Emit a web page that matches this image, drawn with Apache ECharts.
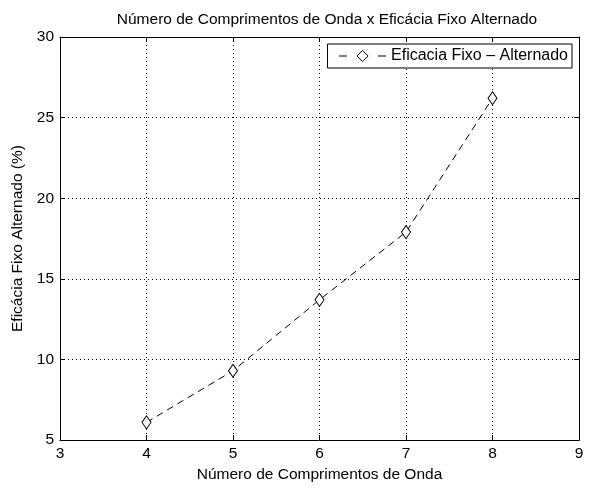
<!DOCTYPE html>
<html>
<head>
<meta charset="utf-8">
<script src="https://cdn.jsdelivr.net/npm/echarts@6/dist/echarts.min.js"></script>
<style>html,body{margin:0;padding:0;background:#fff}#c{width:589px;height:488px}</style>
</head>
<body>
<div id="c"></div>
<script>
const titleText = 'Número de Comprimentos de Onda x Eficácia Fixo Alternado';
const xName = 'Número de Comprimentos de Onda';
const yName = 'Eficácia Fixo Alternado (%)';
const seriesName = 'Eficacia Fixo – Alternado';
const xValues = [4, 5, 6, 7, 8];
const yValues = [6.1, 9.3, 13.7, 17.9, 26.2];

const font = 'Liberation Sans, Arial, Helvetica, sans-serif';
const fs = 15.5;
const chart = echarts.init(document.getElementById('c'), null, {renderer: 'canvas'});
const axisCommon = {
  type: 'value',
  axisLine: {show: true, onZero: false, lineStyle: {color: '#000', width: 1}},
  axisTick: {show: true, inside: true, length: 5, lineStyle: {color: '#000'}},
  splitLine: {show: false},
};
const gridDots = {show: true, lineStyle: {color: '#000', type: [1, 3], width: 1}};
chart.setOption({
  animation: false,
  backgroundColor: '#fff',
  title: {
    text: titleText, left: 322, top: 7, textAlign: 'center',
    textStyle: {fontFamily: font, fontSize: fs, fontWeight: 'normal', color: '#000'}
  },
  legend: {
    right: 17, top: 44,
    orient: 'horizontal',
    backgroundColor: '#fff',
    borderColor: '#000', borderWidth: 1, borderRadius: 0,
    padding: [4, 4, 4, 11],
    itemWidth: 47, itemHeight: 14,
    itemGap: 5,
    lineStyle: {type: [8, 31], width: 1, color: '#000'},
    itemStyle: {color: '#fff', borderColor: '#000', borderWidth: 1},
    textStyle: {fontFamily: font, fontSize: 16, color: '#000'},
    data: [seriesName]
  },
  grid: {left: 60, right: 10, top: 37, bottom: 41, containLabel: false},
  xAxis: [
    Object.assign({}, axisCommon, {
      min: 3, max: 9, interval: 1, position: 'bottom',
      name: xName, nameLocation: 'middle', nameGap: 23,
      nameTextStyle: {fontFamily: font, fontSize: fs, color: '#000'},
      axisLabel: {fontFamily: font, fontSize: fs, color: '#000', margin: 6},
      splitLine: gridDots
    }),
    Object.assign({}, axisCommon, {
      min: 3, max: 9, interval: 1, position: 'top', axisLabel: {show: false}
    })
  ],
  yAxis: [
    Object.assign({}, axisCommon, {
      min: 5, max: 30, interval: 5, position: 'left',
      name: yName, nameLocation: 'middle', nameGap: 32, nameRotate: 90,
      nameTextStyle: {fontFamily: font, fontSize: fs, color: '#000'},
      axisLabel: {fontFamily: font, fontSize: fs, color: '#000', margin: 6},
      splitLine: gridDots
    }),
    Object.assign({}, axisCommon, {
      min: 5, max: 30, interval: 5, position: 'right', axisLabel: {show: false}
    })
  ],
  series: [{
    name: seriesName,
    type: 'line',
    xAxisIndex: 0, yAxisIndex: 0,
    data: xValues.map((x, i) => [x, yValues[i]]),
    symbol: 'diamond', symbolSize: [9, 13],
    showAllSymbol: true,
    lineStyle: {color: '#000', width: 1, type: [7, 5]},
    itemStyle: {color: '#fff', borderColor: '#000', borderWidth: 1},
    emphasis: {disabled: true}
  }]
});
</script>
</body>
</html>
